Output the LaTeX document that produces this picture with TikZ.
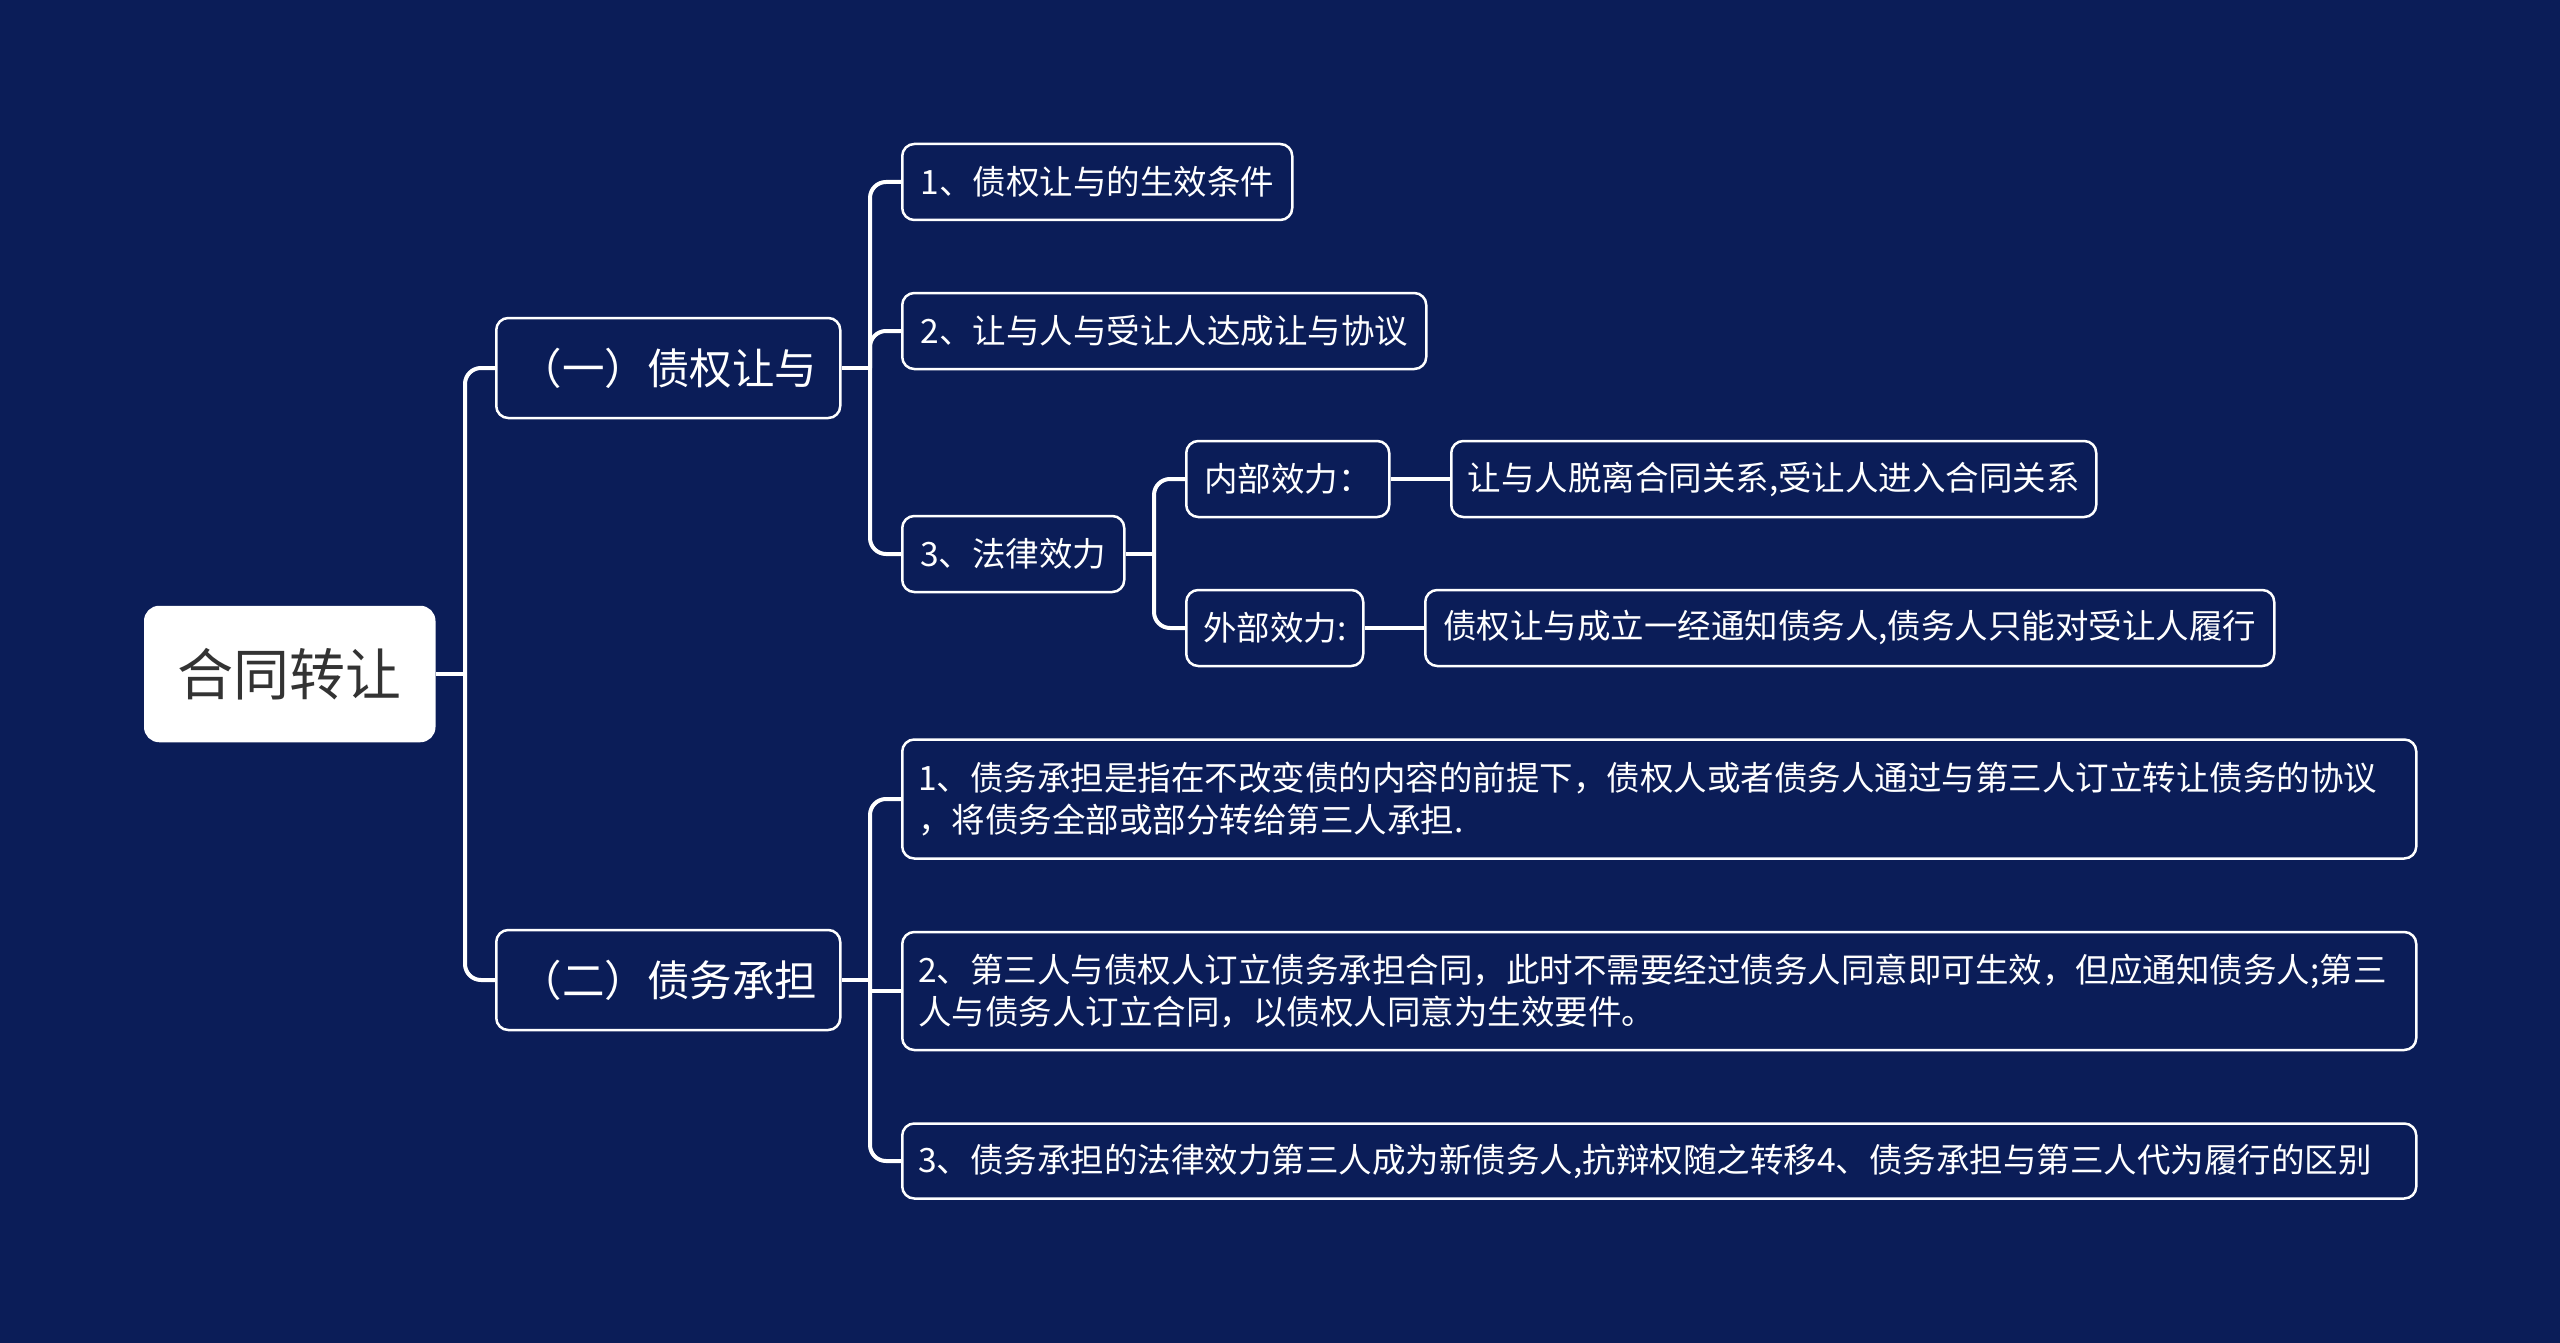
\documentclass[tikz,border=0pt]{standalone}
\usepackage{fontspec}
\setmainfont{Noto Sans CJK SC}
\definecolor{bg}{HTML}{0B1D58}
\definecolor{rootfg}{HTML}{333333}
\begin{document}
\begin{tikzpicture}[x=1pt,y=-1pt,
  box/.style={draw=white, line width=2.5pt, rounded corners=12pt, fill=bg, text=white,
    anchor=west, inner xsep=0pt, inner ysep=0pt, font=\fontsize{33.5}{42}\selectfont},
  lvone/.style={box, font=\fontsize{42.5}{50}\selectfont, minimum width=344pt, minimum height=100pt},
  lvtwo/.style={box, minimum height=76pt},
  wide/.style={box, text width=1482pt, align=left, minimum width=1514pt},
  conn/.style={draw=white, line width=4pt, rounded corners=16pt}]
\fill[bg] (0,0) rectangle (2560,1343);
\useasboundingbox (0,0) rectangle (2560,1343);

% root
\node[box, fill=white, text=rootfg, font=\fontsize{56}{60}\selectfont,
  minimum width=289pt, minimum height=134pt, rounded corners=14pt] (root) at (144,674) {合同转让};

% level one
\node[lvone] (a) at (495,368) {（一）债权让与};
\node[lvone] (b) at (495,980) {（二）债务承担};

% level two, branch a
\node[lvtwo, minimum width=390pt] (a1) at (901,182) {1、债权让与的生效条件};
\node[lvtwo, minimum width=524pt] (a2) at (901,331) {2、让与人与受让人达成让与协议};
\node[lvtwo, minimum width=222pt] (a3) at (901,554) {3、法律效力};
\node[lvtwo, minimum width=203pt] (a31) at (1185,479) {内部效力：};
\node[lvtwo, minimum width=645pt] (a31x) at (1450,479) {让与人脱离合同关系,受让人进入合同关系};
\node[lvtwo, minimum width=177pt] (a32) at (1185,628) {外部效力:};
\node[lvtwo, minimum width=849pt] (a32x) at (1424,628) {债权让与成立一经通知债务人,债务人只能对受让人履行};

% level two, branch b
\node[wide, minimum height=119pt] (b1) at (901,799) {1、债务承担是指在不改变债的内容的前提下，债权人或者债务人通过与第三人订立转让债务的协议\\，将债务全部或部分转给第三人承担.};
\node[wide, minimum height=118pt] (b2) at (901,991) {2、第三人与债权人订立债务承担合同，此时不需要经过债务人同意即可生效，但应通知债务人;第三\\人与债务人订立合同，以债权人同意为生效要件。};
\node[wide, minimum height=75pt] (b3) at (901,1161) {3、债务承担的法律效力第三人成为新债务人,抗辩权随之转移4、债务承担与第三人代为履行的区别};

% junctions
\coordinate (j0) at (465,674);
\coordinate (ja) at (870,368);
\coordinate (jc) at (1154,554);
\coordinate (jb) at (870,980);

% connectors
\draw[conn] (root.east) -- (j0);
\draw[conn] (j0) |- (a.west);
\draw[conn] (j0) |- (b.west);

\draw[conn] (a.east) -- (ja);
\draw[conn] (ja) |- (a1.west);
\draw[conn] (ja) |- (a2.west);
\draw[conn] (ja) |- (a3.west);

\draw[conn] (a3.east) -- (jc);
\draw[conn] (jc) |- (a31.west);
\draw[conn] (jc) |- (a32.west);
\draw[conn] (a31.east) -- (a31x.west);
\draw[conn] (a32.east) -- (a32x.west);

\draw[conn] (b.east) -- (jb);
\draw[conn] (jb) |- (b1.west);
\draw[conn] (jb) |- (b3.west);
\draw[conn, rounded corners=0pt] (jb |- b2.west) -- (b2.west);
\end{tikzpicture}
\end{document}
